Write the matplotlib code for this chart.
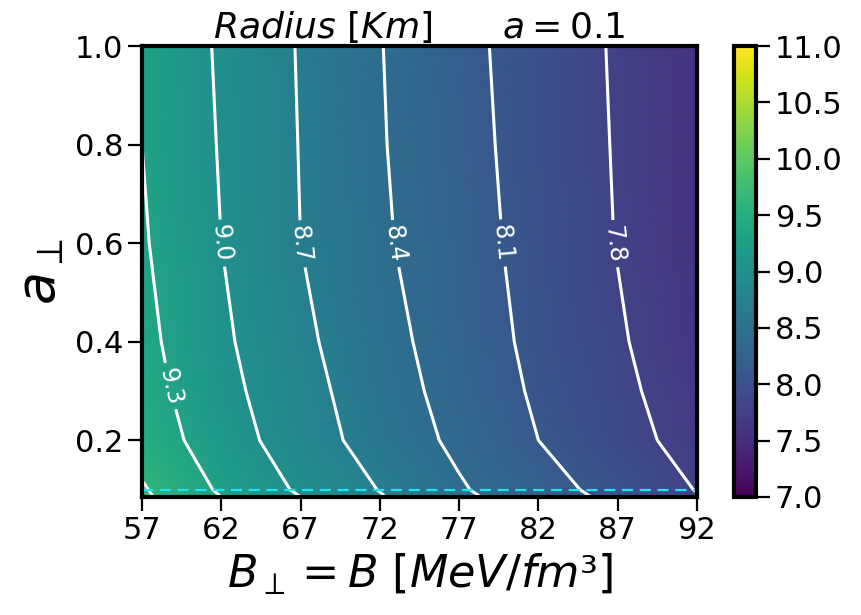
import numpy as np
import matplotlib
matplotlib.use("Agg")
import matplotlib.pyplot as plt

# B values (columns) and a_perp values (rows)
B_vals = [57, 62, 67, 72, 77, 82, 87, 92]
a_vals = [0.085, 0.10, 0.20, 0.30, 0.40, 0.60, 0.80, 1.00]

# radius [km], one row per a_perp
radius = [
    [9.65, 9.30, 9.00, 8.72, 8.46, 8.24, 8.03, 7.82],  # a=0.085
    [9.63, 9.26, 8.96, 8.69, 8.43, 8.21, 8.00, 7.79],  # a=0.10
    [9.47, 9.15, 8.84, 8.58, 8.34, 8.10, 7.90, 7.70],  # a=0.20
    [9.42, 9.09, 8.80, 8.54, 8.29, 8.06, 7.86, 7.66],  # a=0.30
    [9.38, 9.05, 8.76, 8.50, 8.26, 8.03, 7.83, 7.62],  # a=0.40
    [9.33, 9.00, 8.70, 8.44, 8.22, 8.00, 7.79, 7.58],  # a=0.60
    [9.30, 8.98, 8.69, 8.42, 8.20, 7.98, 7.78, 7.58],  # a=0.80
    [9.29, 8.96, 8.68, 8.41, 8.18, 7.97, 7.77, 7.58],  # a=1.00
]

levels = [7.8, 8.1, 8.4, 8.7, 9.0, 9.3, 9.6]
label_levels = [7.8, 8.1, 8.4, 8.7, 9.0, 9.3]
label_pos = [(87.0, 0.6), (79.6, 0.6), (73.1, 0.6), (67.3, 0.6), (62.0, 0.6), (58.8, 0.31)]

a_line = 0.1
cbar_ticks = [7.0, 7.5, 8.0, 8.5, 9.0, 9.5, 10.0, 10.5, 11.0]

fig = plt.figure(figsize=(8.61, 6.15), dpi=100)
W, H = 861, 615
ax = fig.add_axes([142 / W, 1 - 497 / H, 555 / W, 451 / H])
cax = fig.add_axes([734 / W, 1 - 497 / H, 22 / W, 451 / H])

B = np.array(B_vals)
a = np.array(a_vals)
R = np.array(radius)

mesh = ax.pcolormesh(B, a, R, shading="gouraud", cmap="viridis", vmin=7.0, vmax=11.0)
cs = ax.contour(B, a, R, levels=levels, colors="white", linewidths=2.2)
ax.clabel(cs, levels=label_levels, manual=label_pos, fmt="%.1f", fontsize=17, inline=True)

ax.axhline(a_line, color="#19e6f0", ls="--", lw=1.6, dashes=(5, 3))

ax.set_xlim(B_vals[0], B_vals[-1])
ax.set_ylim(a_vals[0], a_vals[-1])
ax.set_xticks(B_vals)
ax.set_yticks([0.2, 0.4, 0.6, 0.8, 1.0])
ax.set_yticklabels(["0.2", "0.4", "0.6", "0.8", "1.0"])
ax.tick_params(labelsize=22, length=10, width=1.6)
for s in ax.spines.values():
    s.set_linewidth(3)

ax.set_xlabel(r"$B_\perp = B$ [$MeV/fm³$]", fontsize=32, labelpad=5)
ax.set_ylabel(r"$a_\perp$", fontsize=39, labelpad=6)
ax.set_title(r"$Radius\ [Km]$      $a = 0.1$", fontsize=26, pad=6)

cb = fig.colorbar(mesh, cax=cax, ticks=cbar_ticks)
cb.ax.set_yticklabels([f"{t:.1f}" for t in cbar_ticks])
cb.ax.tick_params(labelsize=22, length=10, width=1.6)
cb.outline.set_linewidth(3)

fig.savefig("out.png", dpi=100)
